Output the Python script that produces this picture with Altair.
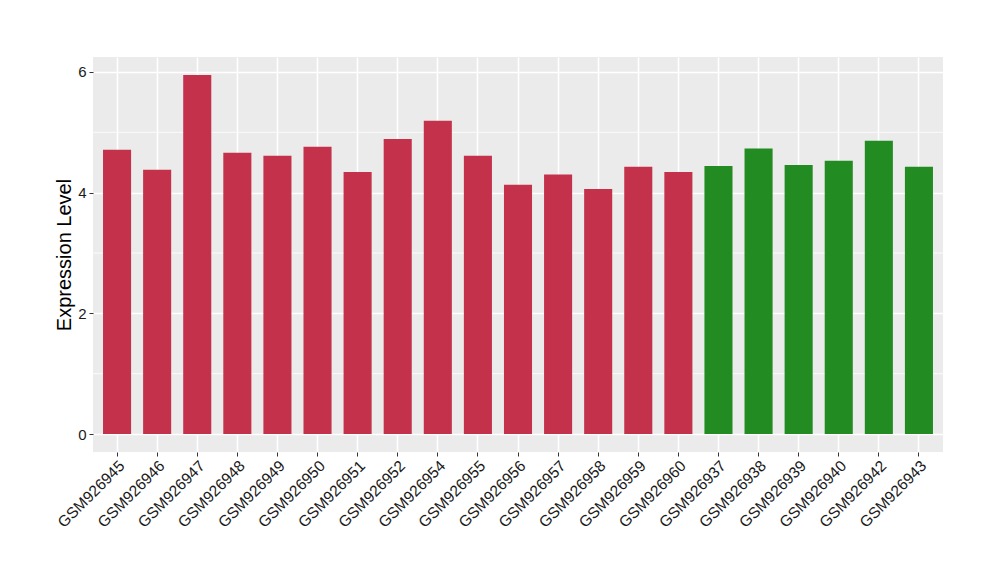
import altair as alt
import pandas as pd

samples = ["GSM926945", "GSM926946", "GSM926947", "GSM926948", "GSM926949", "GSM926950",
           "GSM926951", "GSM926952", "GSM926954", "GSM926955", "GSM926956", "GSM926957",
           "GSM926958", "GSM926959", "GSM926960", "GSM926937", "GSM926938", "GSM926939",
           "GSM926940", "GSM926942", "GSM926943"]
values = [4.71, 4.38, 5.95, 4.66, 4.61, 4.76, 4.34, 4.89, 5.19, 4.61, 4.13, 4.30,
          4.06, 4.43, 4.34, 4.44, 4.73, 4.46, 4.53, 4.86, 4.43]
groups = ["A"] * 15 + ["B"] * 6
minor_ticks = [1, 3, 5]

df = pd.DataFrame({"sample": samples, "value": values, "group": groups})
minor_df = pd.DataFrame({"y": minor_ticks})

y_scale = alt.Scale(domain=[-0.2975, 6.2475], nice=False, zero=False)
x_scale = alt.Scale(domain=samples, paddingInner=0.3, paddingOuter=0.25)

minor = alt.Chart(minor_df).mark_rule(color="white", strokeWidth=0.8).encode(
    y=alt.Y("y:Q", scale=y_scale)
)

bars = alt.Chart(df).mark_bar().encode(
    x=alt.X("sample:N", scale=x_scale, sort=samples,
            axis=alt.Axis(title=None, labelAngle=-45, labelAlign="right", labelBaseline="top",
                          labelFontSize=15.5, labelColor="#1a1a1a", labelFont="Liberation Sans",
                          tickColor="#333333", tickSize=4, labelPadding=2,
                          grid=True, gridColor="white", gridWidth=1.6, domain=False,
                          bandPosition=0.5)),
    y=alt.Y("value:Q", scale=y_scale,
            axis=alt.Axis(title="Expression Level", values=[0, 2, 4, 6], format="d",
                          labelFontSize=15, labelColor="#1a1a1a", labelFont="Liberation Sans",
                          tickColor="#333333", tickSize=4, labelPadding=3,
                          titleFontSize=20, titleFont="Liberation Sans", titleFontWeight="normal",
                          titleColor="black", titlePadding=3,
                          grid=True, gridColor="white", gridWidth=1.6, domain=False)),
    color=alt.Color("group:N", scale=alt.Scale(domain=["A", "B"], range=["#C3314A", "#228B22"]),
                    legend=None),
)

chart = alt.layer(minor, bars).properties(
    width=850, height=395,
    autosize=alt.AutoSizeParams(type="none"),
    padding={"left": 85, "top": 49, "right": 49, "bottom": 120},
).configure_view(fill="#EBEBEB", stroke=None)

chart.save("out.html", embed_options={"renderer": "svg", "actions": False})
